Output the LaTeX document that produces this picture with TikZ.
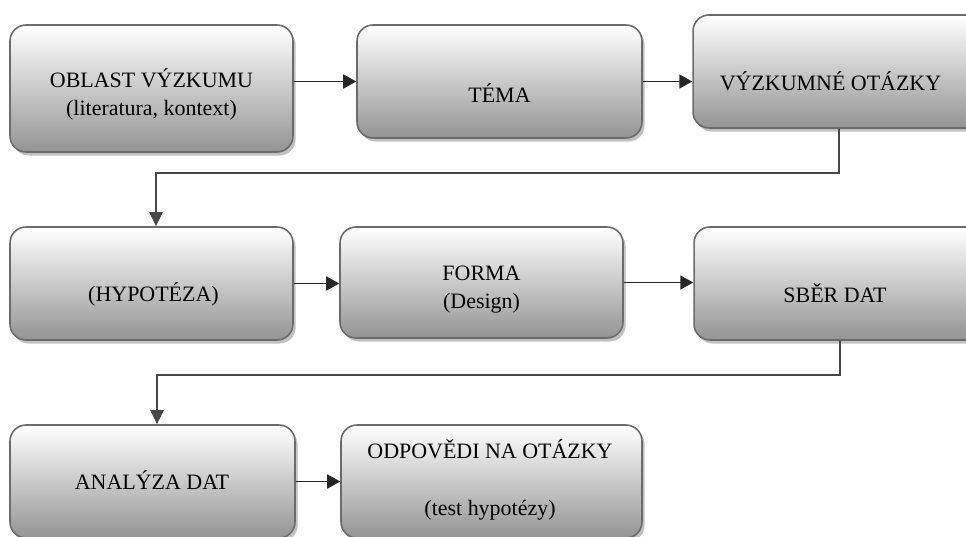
\documentclass[tikz,border=0pt]{standalone}
\usepackage{fontspec}
\setmainfont{Liberation Serif}
\usetikzlibrary{shadows,arrows.meta}

\begin{document}
\begin{tikzpicture}[x=0.02cm,y=-0.02cm,
        box/.style={draw=black!58,line width=0.9pt,rounded corners=0.32cm,top color=white,bottom color=black!42,
            drop shadow={shadow xshift=1.5pt,shadow yshift=-2pt,fill=black!35,opacity=0.7},inner sep=0pt},
        txt/.style={align=center,font=\fontsize{12.5}{16}\selectfont},
        arr/.style={-{Triangle[length=0.26cm,width=0.28cm]},line width=1pt,black!85},
        link/.style={-{Triangle[length=0.28cm,width=0.26cm]},line width=1.4pt,black!72}]
        \useasboundingbox(0,0)rectangle(966,537);
        \clip(0,0)rectangle(966,537);

        \node[box,minimum width=5.66cm,minimum height=2.54cm](oblast)at(151.5,88.5){};
        \node[box,minimum width=5.70cm,minimum height=2.26cm](tema)at(499.5,81.5){};
        \node[box,minimum width=5.84cm,minimum height=2.26cm](otazky)at(839,71.5){};
        \node[box,minimum width=5.66cm,minimum height=2.26cm](hypoteza)at(151.5,283.5){};
        \node[box,minimum width=5.66cm,minimum height=2.22cm](forma)at(481.5,282.5){};
        \node[box,minimum width=5.84cm,minimum height=2.26cm](sber)at(840,283.5){};
        \node[box,minimum width=5.70cm,minimum height=2.26cm](analyza)at(152.5,481.5){};
        \node[box,minimum width=6.02cm,minimum height=2.26cm](odpovedi)at(491.5,481.5){};

        \node[txt](oblastTxt)at(151.5,94){OBLAST VÝZKUMU\\(literatura, kontext)};
        \node[txt](temaTxt)at(499.5,93){TÉMA};
        \node[txt](otazkyTxt)at(830.5,81){VÝZKUMNÉ OTÁZKY};
        \node[txt](hypotezaTxt)at(153.5,294){(HYPOTÉZA)};
        \node[txt](formaTxt)at(481.5,290){FORMA\\(Design)};
        \node[txt](sberTxt)at(835,293){SBĚR DAT};
        \node[txt](analyzaTxt)at(152,480){ANALÝZA DAT};
        \node[txt](odpovediTxt)at(490,480){ODPOVĚDI NA OTÁZKY\\[16pt](test hypotézy)};

        \draw[arr](oblast.east|-tema.west)--(tema.west);
        \draw[arr](tema.east)--(tema.east-|otazky.west);
        \draw[arr](hypoteza.east)--(hypoteza.east-|forma.west);
        \draw[arr](forma.east)--(forma.east-|sber.west);
        \draw[arr](analyza.east)--(analyza.east-|odpovedi.west);

        \coordinate(turnA)at(156,173);
        \coordinate(turnB)at(157,375);
        \draw[link](otazky.south)|-(turnA)--(turnA|-hypoteza.north);
        \draw[link](sber.south)|-(turnB)--(turnB|-analyza.north);
    \end{tikzpicture}
\end{document}
